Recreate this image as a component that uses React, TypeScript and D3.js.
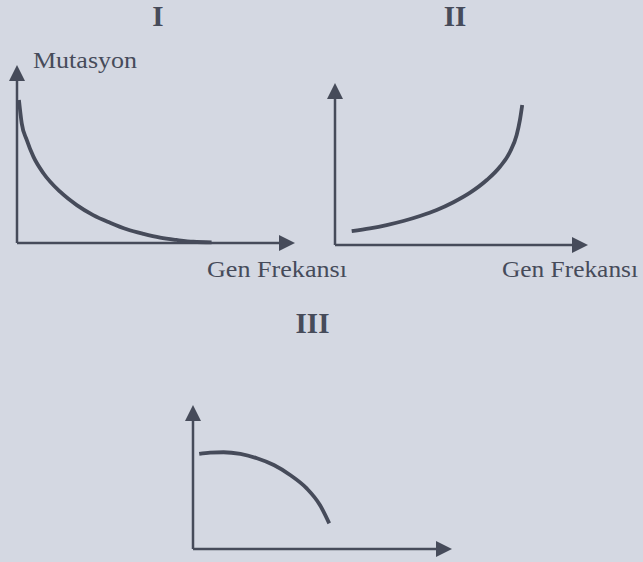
import React from "react";
import * as d3 from "d3";

// Panel titles and axis labels
const panelTitles = ["I", "II", "III"];
const yAxisLabel = "Mutasyon";
const xAxisLabel = "Gen Frekansı";

// Curve values (x: gene frequency, y: mutation), both in 0..1 of each axis
const curveI: [number, number][] = [
  [0.007, 0.803],
  [0.017, 0.672],
  [0.035, 0.579],
  [0.059, 0.485],
  [0.095, 0.392],
  [0.155, 0.288],
  [0.215, 0.213],
  [0.274, 0.157],
  [0.335, 0.114],
  [0.395, 0.077],
  [0.455, 0.051],
  [0.515, 0.03],
  [0.574, 0.017],
  [0.634, 0.007],
  [0.7, 0.004],
];

const curveII: [number, number][] = [
  [0.066, 0.086],
  [0.138, 0.103],
  [0.204, 0.123],
  [0.27, 0.148],
  [0.336, 0.179],
  [0.402, 0.216],
  [0.468, 0.264],
  [0.534, 0.323],
  [0.6, 0.401],
  [0.652, 0.483],
  [0.692, 0.576],
  [0.718, 0.679],
  [0.731, 0.772],
  [0.74, 0.864],
];

const curveIII: [number, number][] = [
  [0.024, 0.66],
  [0.066, 0.669],
  [0.118, 0.672],
  [0.183, 0.66],
  [0.247, 0.63],
  [0.312, 0.583],
  [0.375, 0.514],
  [0.439, 0.421],
  [0.49, 0.306],
  [0.526, 0.178],
];

const W = 643;
const H = 562;
const BG = "#d4d8e2";
const INK = "#464b5a";
const FONT = "'Liberation Serif', 'Times New Roman', serif";

type Panel = {
  title: string;
  titleX: number;
  titleY: number;
  x0: number; // origin x
  y0: number; // origin y
  xEnd: number; // arrow tip on x-axis
  yEnd: number; // arrow tip on y-axis
  data: [number, number][];
  yLabel?: { x: number; y: number; len: number };
  xLabel?: { x: number; y: number; len: number };
};

const panels: Panel[] = [
  {
    title: panelTitles[0],
    titleX: 158,
    titleY: 26,
    x0: 17,
    y0: 243,
    xEnd: 295,
    yEnd: 65,
    data: curveI,
    yLabel: { x: 33, y: 68, len: 104 },
    xLabel: { x: 207, y: 277, len: 140 },
  },
  {
    title: panelTitles[1],
    titleX: 455,
    titleY: 26,
    x0: 335,
    y0: 245,
    xEnd: 588,
    yEnd: 83,
    data: curveII,
    xLabel: { x: 502, y: 277, len: 136 },
  },
  {
    title: panelTitles[2],
    titleX: 312.5,
    titleY: 333,
    x0: 193,
    y0: 549,
    xEnd: 452,
    yEnd: 405,
    data: curveIII,
  },
];

const HEAD_LEN = 16;
const HEAD_HALF = 8;

function PanelChart({ p }: { p: Panel }) {
  const x = d3.scaleLinear().domain([0, 1]).range([p.x0, p.xEnd]);
  const y = d3.scaleLinear().domain([0, 1]).range([p.y0, p.yEnd]);
  const line = d3
    .line<[number, number]>()
    .x((d) => x(d[0]))
    .y((d) => y(d[1]))
    .curve(d3.curveMonotoneX);

  const xTip = x(1);
  const yTip = y(1);
  const xHead = `M${xTip},${p.y0} L${xTip - HEAD_LEN},${p.y0 - HEAD_HALF} L${xTip - HEAD_LEN},${p.y0 + HEAD_HALF} Z`;
  const yHead = `M${p.x0},${yTip} L${p.x0 - HEAD_HALF},${yTip + HEAD_LEN} L${p.x0 + HEAD_HALF},${yTip + HEAD_LEN} Z`;

  return (
    <g>
      <text
        x={p.titleX}
        y={p.titleY}
        textAnchor="middle"
        fontFamily={FONT}
        fontWeight="bold"
        fontSize={29}
        fill={INK}
      >
        {p.title}
      </text>
      {p.yLabel && (
        <text
          x={p.yLabel.x}
          y={p.yLabel.y}
          fontFamily={FONT}
          fontSize={23}
          fill={INK}
          textLength={p.yLabel.len}
          lengthAdjust="spacingAndGlyphs"
        >
          {yAxisLabel}
        </text>
      )}
      {p.xLabel && (
        <text
          x={p.xLabel.x}
          y={p.xLabel.y}
          fontFamily={FONT}
          fontSize={23}
          fill={INK}
          textLength={p.xLabel.len}
          lengthAdjust="spacingAndGlyphs"
        >
          {xAxisLabel}
        </text>
      )}
      {/* axes */}
      <line x1={p.x0} y1={p.y0} x2={xTip - HEAD_LEN + 2} y2={p.y0} stroke={INK} strokeWidth={2.5} />
      <line x1={p.x0} y1={p.y0} x2={p.x0} y2={yTip + HEAD_LEN - 2} stroke={INK} strokeWidth={2.5} />
      <path d={xHead} fill={INK} />
      <path d={yHead} fill={INK} />
      {/* curve */}
      <path d={line(p.data) || ""} fill="none" stroke={INK} strokeWidth={3.8} strokeLinecap="butt" />
    </g>
  );
}

export default function App() {
  return (
    <svg
      width={W}
      height={H}
      viewBox={`0 0 ${W} ${H}`}
      style={{ position: "absolute", left: 0, top: 0, display: "block" }}
    >
      <rect x={0} y={0} width={W} height={H} fill={BG} />
      {panels.map((p) => (
        <PanelChart key={p.title} p={p} />
      ))}
    </svg>
  );
}
